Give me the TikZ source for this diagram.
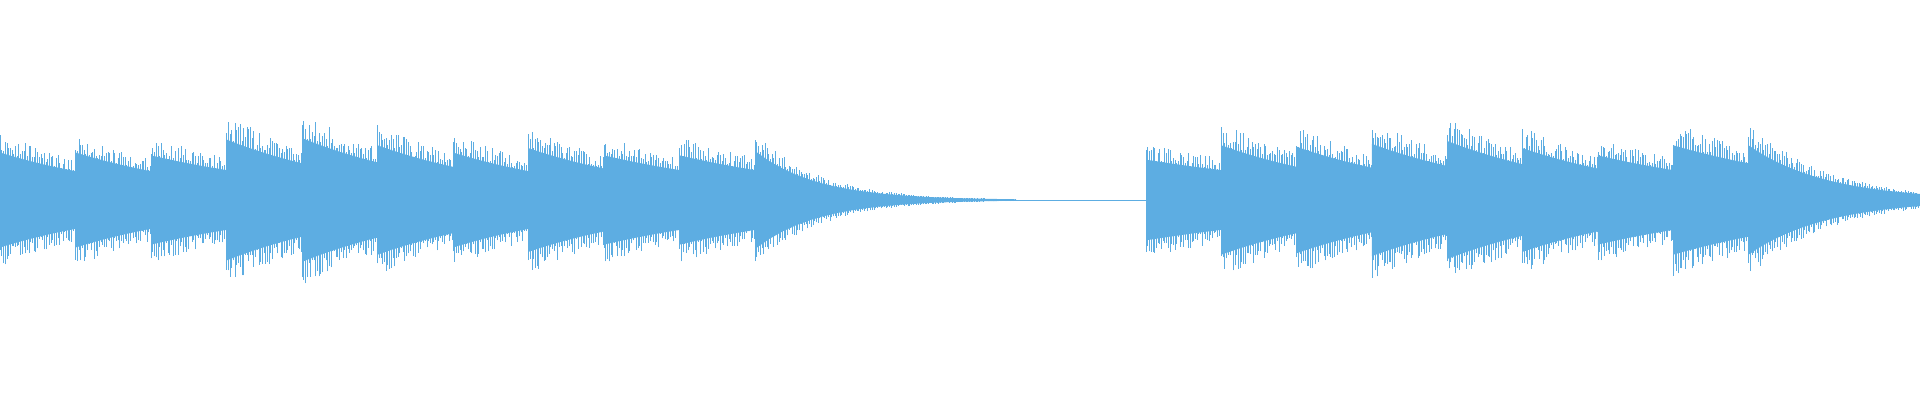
\documentclass[tikz,border=0pt]{standalone}
\definecolor{wc}{RGB}{93,173,226}
\tikzset{wav/.style={fill=wc},wl/.style={draw=wc,line width=0.6pt}}
\newcommand\wseg[4]{%
 \fill[wav] plot[domain=0:#2,samples=20] ({#1+\x},{0.72*#3*exp(-#4*\x/#2)}) -- plot[domain=#2:0,samples=20] ({#1+\x},{-0.72*#3*exp(-#4*\x/#2)}) -- cycle;
 \foreach \t in {0,1.7,...,#2}{\pgfmathsetmacro\ha{#3*exp(-#4*\t/#2)*(0.72+0.3*rnd)}\pgfmathsetmacro\hb{#3*exp(-#4*\t/#2)*(0.72+0.3*rnd)}\draw[wl] (#1+\t,-\hb) -- (#1+\t,\ha);}
}
\begin{document}
\begin{tikzpicture}[x=1pt,y=1pt]
\pgfmathsetseed{7}
\useasboundingbox (0,-200) rectangle (1920,200);
\draw[wl] (0,0) -- (1146,0);
\wseg{0}{75.5}{66}{0.5}
\wseg{75.5}{75.5}{66}{0.5}
\wseg{151}{75.5}{62}{0.4}
\wseg{226.5}{75.5}{84}{0.5}
\wseg{302}{75.5}{86}{0.5}
\wseg{377.5}{75.5}{76}{0.5}
\wseg{453}{75.5}{66}{0.5}
\wseg{528.5}{75.5}{72}{0.5}
\wseg{604}{75.5}{62}{0.4}
\wseg{679.5}{75.5}{62}{0.4}
\wseg{755}{261}{68}{4.2}
\wseg{1146}{75.3}{56}{0.3}
\wseg{1221.3}{75.3}{76}{0.5}
\wseg{1296.6}{75.3}{74}{0.5}
\wseg{1371.9}{75.3}{78}{0.5}
\wseg{1447.2}{75.3}{82}{0.5}
\wseg{1522.5}{75.3}{72}{0.5}
\wseg{1597.8}{75.3}{62}{0.4}
\wseg{1673.1}{75.3}{76}{0.4}
\wseg{1748.4}{171.6}{76}{2.2}
\end{tikzpicture}
\end{document}
